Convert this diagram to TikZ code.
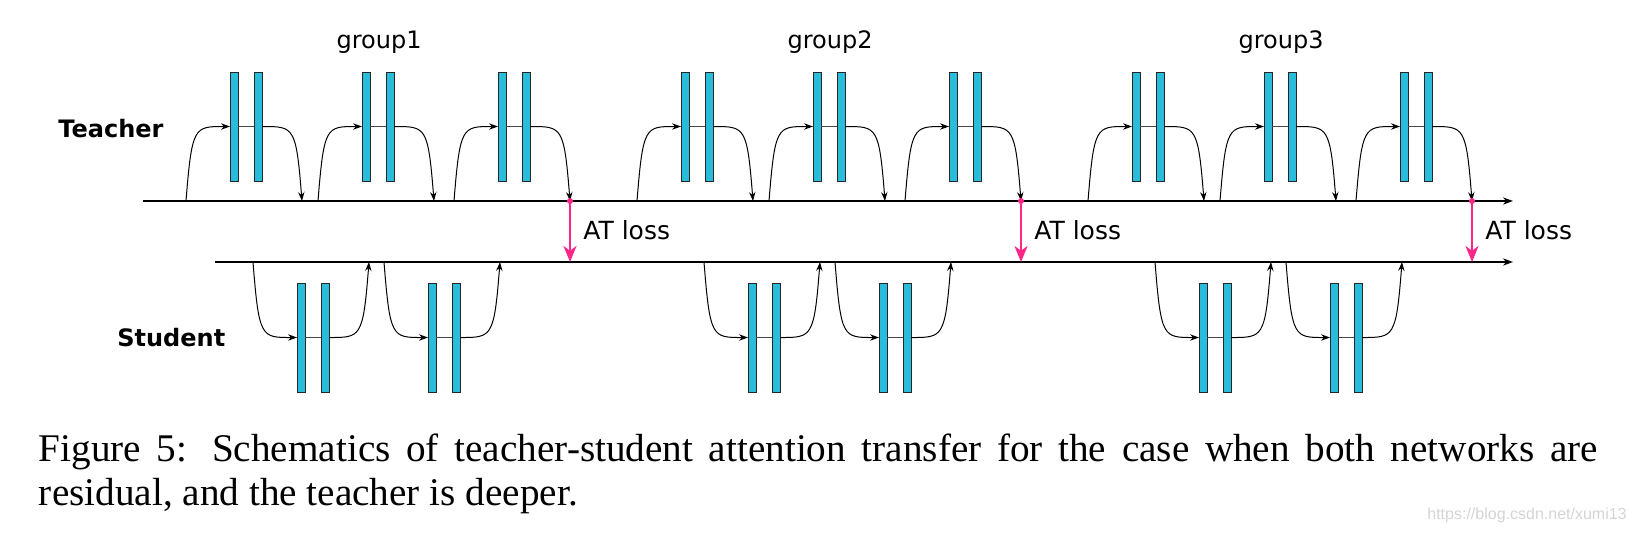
\documentclass[tikz,border=0pt]{standalone}
\usepackage{fontspec}
\setmainfont{Liberation Serif}
\newfontfamily\dejavu{DejaVu Sans}
\newfontfamily\wmfont{Liberation Sans}
\usetikzlibrary{arrows.meta}
\definecolor{barcyan}{RGB}{41,188,219}
\definecolor{atpink}{RGB}{255,38,136}
\definecolor{linkgray}{RGB}{70,70,70}
\begin{document}
\begin{tikzpicture}[x=0.5pt,y=-0.5pt,
  bar/.style={draw=black!85, line width=0.5pt, fill=barcyan, minimum width=4pt, minimum height=54.5pt, inner sep=0pt, outer sep=0pt},
  link/.style={draw=linkgray, line width=0.6pt},
  skip/.style={draw=black, line width=0.5pt, -{Stealth[length=4.5pt,width=3.2pt]}},
  mainline/.style={draw=black, line width=0.65pt, -{Stealth[length=5pt,width=3.6pt]}},
  atarrow/.style={draw=atpink, line width=1.2pt, -{Stealth[length=8pt,width=6.5pt,inset=2.4pt]}},
  sanslabel/.style={inner sep=0pt, font=\dejavu\fontsize{12}{14}\selectfont},
  boldlabel/.style={inner sep=0pt, font=\dejavu\bfseries\fontsize{12}{14}\selectfont}]
\useasboundingbox (0,0) rectangle (1637,532);

% main lines
\coordinate (tls) at (143,201);
\coordinate (tle) at (1513,201);
\coordinate (sls) at (215,262);
\coordinate (sle) at (1513,262);
\draw[mainline] (tls) -- (tle);
\draw[mainline] (sls) -- (sle);

% labels
\node[boldlabel, anchor=base west] (teacher) at (58,137) {Teacher};
\node[boldlabel, anchor=base west] (student) at (117,346.5) {Student};

\foreach \g [evaluate=\g as \off using (\g-1)*451] in {1,2,3} {
  % teacher blocks
  \foreach \k/\L in {1/230,2/362,3/498} {
    \pgfmathsetmacro\X{\L+\off}
    \node[bar] (t\g\k a) at (\X+4,126.5) {};
    \node[bar] (t\g\k b) at (\X+28,126.5) {};
    \coordinate (t\g\k s) at (\X-44,201);
    \coordinate (t\g\k e) at (\X+72,201);
    \draw[link] (t\g\k a.east) -- (t\g\k b.west);
    \draw[skip] (t\g\k s) .. controls +(6,-75) and +(-36,0) .. (t\g\k a.west);
    \draw[skip] (t\g\k b.east) .. controls +(32,0) and +(-6,-75) .. (t\g\k e);
  }
  % student blocks
  \foreach \k/\L in {1/297,2/428} {
    \pgfmathsetmacro\X{\L+\off}
    \node[bar] (s\g\k a) at (\X+4,337.5) {};
    \node[bar] (s\g\k b) at (\X+28,337.5) {};
    \coordinate (s\g\k s) at (\X-44,262);
    \coordinate (s\g\k e) at (\X+72,262);
    \draw[link] (s\g\k a.east) -- (s\g\k b.west);
    \draw[skip] (s\g\k s) .. controls +(6,76) and +(-36,0) .. (s\g\k a.west);
    \draw[skip] (s\g\k b.east) .. controls +(32,0) and +(-6,76) .. (s\g\k e);
  }
  % AT loss
  \coordinate (at\g b) at (570+\off,262);
  \draw[atarrow] (t\g3e) -- (at\g b);
  \fill[atpink] (t\g3e) circle (3);
  \node[inner sep=0pt, font=\dejavu\fontsize{12.5}{14}\selectfont, anchor=base west] (atl\g) at (583+\off,239) {AT loss};
  \node[sanslabel, anchor=base] (grp\g) at (379+\off,48.5) {group\g};
}

% caption
\node[inner sep=0pt, anchor=north west, text width=779.5pt, align=justify,
      font=\fontsize{19.6}{22}\selectfont] (cap) at (38.6,433)
  {\tolerance=10000 \hyphenpenalty=10000 \exhyphenpenalty=10000 Figure 5: Schematics of teacher-student attention transfer for the case when both networks are\linebreak residual, and the teacher is deeper.};

% watermark
\node[anchor=base east, inner sep=0pt, text=black!17, font=\wmfont\fontsize{8}{9}\selectfont] (wm) at (1627,519) {https://blog.csdn.net/xumi13};
\end{tikzpicture}
\end{document}
